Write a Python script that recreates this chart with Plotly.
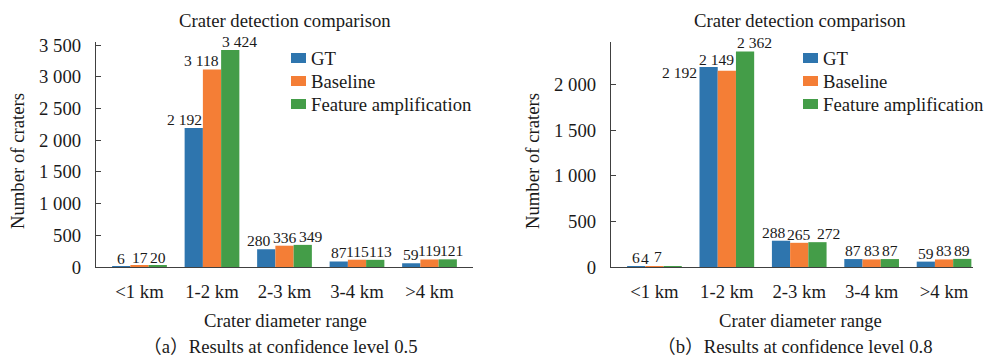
import plotly.graph_objects as go

# ---------------- data ----------------
categories = ["<1 km", "1-2 km", "2-3 km", "3-4 km", ">4 km"]
series_names = ["GT", "Baseline", "Feature amplification"]

gt_05 = [6, 2192, 280, 87, 59]
baseline_05 = [17, 3118, 336, 115, 119]
feature_05 = [20, 3424, 349, 113, 121]

gt_08 = [6, 2192, 288, 87, 59]
baseline_08 = [4, 2149, 265, 83, 83]
feature_08 = [7, 2362, 272, 87, 89]

yticks_05 = [0, 500, 1000, 1500, 2000, 2500, 3000, 3500]
yticks_08 = [0, 500, 1000, 1500, 2000]

chart_title = "Crater detection comparison"
x_title = "Crater diameter range"
y_title = "Number of craters"
caption_a = "（a）Results at confidence level 0.5"
caption_b = "（b）Results at confidence level 0.8"

# ---------------- styles ----------------
W, H = 985, 359
colors = ["#2E75AE", "#F47E36", "#449D48"]
FONT = "Times New Roman, Liberation Serif, DejaVu Serif, Noto Sans CJK SC, serif"
TXT = "#1a1a1a"
AXC = "#404040"
FS = 18.7
LFS = 15.6
BARGAP = 0.245

# label nudges in px (dx, dy) for crowded labels, keyed by (category index, series index)
nudge_a = {(1, 0): (-9, 0), (1, 1): (-11, 0), (1, 2): (9, 0),
           (2, 0): (-7, 0), (2, 2): (8, 0), (3, 2): (5, 0), (4, 2): (4, 0)}
nudge_b = {(0, 1): (-9, 0), (0, 2): (-15, 1), (1, 0): (-29, -14), (1, 1): (-10, 3),
           (1, 2): (9, 0), (2, 0): (-7, 0), (2, 2): (11, 0)}


def px_x(p):
    return p / W


def px_y(p):
    return 1 - p / H


def fmt(v):
    return f"{v:,}".replace(",", " ")


fig = go.Figure()
annotations = []
shapes = []

panels = [
    ("x", "y", [gt_05, baseline_05, feature_05], nudge_a, 291),
    ("x2", "y2", [gt_08, baseline_08, feature_08], nudge_b, 803),
]

bw = (1 - BARGAP) / 3
for xa, ya, data, nudges, lgx in panels:
    for i, (name, vals) in enumerate(zip(series_names, data)):
        fig.add_trace(go.Bar(
            x=categories, y=vals, name=name, marker_color=colors[i],
            marker_line_width=0, xaxis=xa, yaxis=ya, showlegend=False,
            hoverinfo="x+y+name",
        ))
        for k, v in enumerate(vals):
            dx, dy = nudges.get((k, i), (0, 0))
            annotations.append(dict(
                x=k + (i - 1) * bw, y=v, xref=xa, yref=ya,
                text=fmt(v), showarrow=False, xanchor="center", yanchor="bottom",
                xshift=dx, yshift=-2 + dy,
                font=dict(family=FONT, size=LFS, color=TXT),
            ))
        # legend entry
        cy = 58 + 23 * i
        shapes.append(dict(type="rect", xref="paper", yref="paper",
                           x0=px_x(lgx), x1=px_x(lgx + 15), y0=px_y(cy + 5), y1=px_y(cy - 5),
                           fillcolor=colors[i], line_width=0))
        annotations.append(dict(x=px_x(lgx + 18), y=px_y(cy), xref="paper", yref="paper",
                                text=name, showarrow=False, xanchor="left", yanchor="middle",
                                font=dict(family=FONT, size=FS, color=TXT)))

axis_common = dict(showline=True, linecolor=AXC, linewidth=1.3, showgrid=False,
                   zeroline=False, automargin=False,
                   tickfont=dict(family=FONT, size=FS, color=TXT))

fig.update_layout(
    width=W, height=H, margin=dict(l=0, r=0, t=0, b=0, autoexpand=False),
    paper_bgcolor="white", plot_bgcolor="white",
    barmode="group", bargap=BARGAP, bargroupgap=0,
    separators=". ",
    font=dict(family=FONT, size=FS, color=TXT),
    showlegend=False,
    xaxis=dict(domain=[px_x(96), px_x(473)], range=[-0.6, 4.6], ticks="",
               anchor="y", ticklabelstandoff=7, **axis_common),
    yaxis=dict(domain=[px_y(267), px_y(42)], range=[0, 3550], tickvals=yticks_05,
               tickformat=",d", ticks="inside", ticklen=5, tickcolor=AXC, tickwidth=1.3,
               anchor="x", ticklabelstandoff=10, **axis_common),
    xaxis2=dict(domain=[px_x(611), px_x(973)], range=[-0.6, 4.4], ticks="",
                anchor="y2", ticklabelstandoff=7, **axis_common),
    yaxis2=dict(domain=[px_y(267), px_y(42)], range=[0, 2465], tickvals=yticks_08,
                tickformat=",d", ticks="inside", ticklen=5, tickcolor=AXC, tickwidth=1.3,
                anchor="x2", ticklabelstandoff=10, **axis_common),
)

# titles, axis titles, captions
texts = [
    (chart_title, 285, 20, 0), (chart_title, 800, 20, 0),
    (x_title, 285, 320, 0), (x_title, 800, 320, 0),
    (caption_a, 280, 346, 0), (caption_b, 795, 346, 0),
    (y_title, 17, 161, -90), (y_title, 532, 161, -90),
]
for t, x, y, ang in texts:
    annotations.append(dict(
        x=px_x(x), y=px_y(y), xref="paper", yref="paper", text=t, showarrow=False,
        xanchor="center", yanchor="middle", textangle=ang,
        font=dict(family=FONT, size=FS, color=TXT),
    ))

fig.update_layout(annotations=annotations, shapes=shapes)
fig.write_html("out.html")
